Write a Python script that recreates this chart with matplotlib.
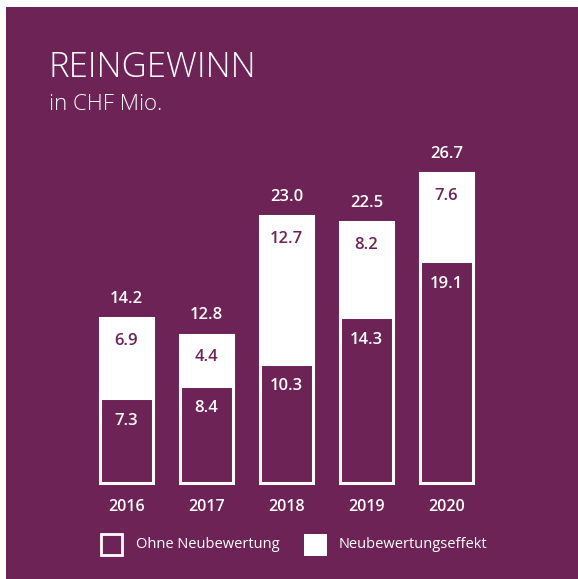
import matplotlib.pyplot as plt
from matplotlib.patches import Rectangle

years = ["2016", "2017", "2018", "2019", "2020"]
ohne = [7.3, 8.4, 10.3, 14.3, 19.1]
effekt = [6.9, 4.4, 12.7, 8.2, 7.6]
total = [14.2, 12.8, 23.0, 22.5, 26.7]

purple = "#6e2357"
W, H = 578, 579

plt.rcParams['font.family'] = ['Open Sans', 'DejaVu Sans']

fig = plt.figure(figsize=(W / 100, H / 100), dpi=100, facecolor="white")
fig.patches.append(Rectangle((6 / W, 0), 1 - 6 / W, (H - 7) / H,
                             transform=fig.transFigure, facecolor=purple,
                             edgecolor="none", zorder=0))

# axes: value 0 at y=483px, 11.6 px per unit; x centers 126.5 + 80*i
ax = fig.add_axes([86.5 / W, (H - 483) / H, 400 / W, 320 / H])
ax.set_zorder(3)
ax.set_xlim(-0.5, 4.5)
ax.set_ylim(0, 320 / 11.6)
ax.axis("off")

x = range(len(years))
ax.bar(x, effekt, bottom=ohne, width=0.655, color="white",
       edgecolor="white", linewidth=2.2, clip_on=False)
ax.bar(x, ohne, width=0.655, color=purple,
       edgecolor="white", linewidth=2.2, clip_on=False)

for i in x:
    ax.annotate(f"{total[i]:.1f}", (i, total[i]), xytext=(0, 13.7),
                textcoords="offset points", ha="center", va="center",
                color="white", fontsize=12, fontweight="semibold")
    ax.annotate(f"{effekt[i]:.1f}", (i, total[i]), xytext=(0, -16.5),
                textcoords="offset points", ha="center", va="center",
                color=purple, fontsize=12, fontweight="semibold")
    ax.annotate(f"{ohne[i]:.1f}", (i, ohne[i]), xytext=(0, -16.5),
                textcoords="offset points", ha="center", va="center",
                color="white", fontsize=12, fontweight="semibold")
    ax.annotate(years[i], (i, 0), xytext=(0, -17.3),
                textcoords="offset points", ha="center", va="center",
                color="white", fontsize=11.5, fontweight="semibold")

fig.text(48 / W, 1 - 68 / H, "REINGEWINN", color="white", fontsize=25,
         fontweight="light", va="center", ha="left")
fig.text(49 / W, 1 - 104 / H, "in CHF Mio.", color="white", fontsize=16,
         fontweight="light", va="center", ha="left")

# legend
fig.patches.append(Rectangle((101 / W, 1 - 555 / H), 21 / W, 21 / H,
                             transform=fig.transFigure, facecolor="none",
                             edgecolor="white", linewidth=2))
fig.text(136 / W, 1 - 545 / H, "Ohne Neubewertung", color="white",
         fontsize=10.5, va="center", ha="left")
fig.patches.append(Rectangle((304 / W, 1 - 556 / H), 23 / W, 22 / H,
                             transform=fig.transFigure, facecolor="white",
                             edgecolor="none"))
fig.text(339 / W, 1 - 545 / H, "Neubewertungseffekt", color="white",
         fontsize=10.5, va="center", ha="left")

fig.savefig("out.png", dpi=100, facecolor="white")
